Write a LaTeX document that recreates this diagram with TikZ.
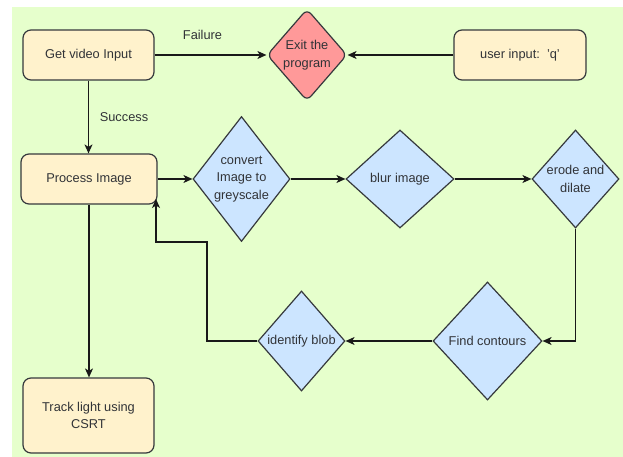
\documentclass[tikz,border=0pt]{standalone}
\usepackage{fontspec}
\setmainfont{Liberation Sans}
\usetikzlibrary{shapes.geometric,arrows.meta,calc}
\definecolor{bggreen}{HTML}{E6FFCC}
\definecolor{boxfill}{HTML}{FFF2CC}
\definecolor{diafill}{HTML}{CCE5FF}
\definecolor{exitfill}{HTML}{FF9999}
\definecolor{edge}{HTML}{36393D}
\tikzset{
  basefont/.style={font=\fontsize{12.8}{17.5}\selectfont, text=edge!90!black},
  stepbox/.style={basefont, draw=edge, fill=boxfill, line width=1.2pt, rounded corners=8pt,
    align=center, inner sep=0pt},
  decision/.style={basefont, shape=diamond, draw=edge, fill=diafill, line width=1.2pt,
    align=center, inner sep=0pt},
  arr/.style={draw=black!90, line width=1.2pt,
    -{Stealth[length=9pt, width=8pt, inset=2.5pt]}},
  tag/.style={basefont}
}
\begin{document}
\begin{tikzpicture}[x=1pt, y=-1pt]
\useasboundingbox (0,0) rectangle (623,457);
\fill[bggreen] (12,7) rectangle (623,457);

% process boxes
\node[stepbox, minimum width=131pt, minimum height=50pt] (get) at (88.5,55) {Get video Input};
\node[stepbox, minimum width=132pt, minimum height=50pt] (user) at (520,55) {user input:\ \ 'q'};
\node[stepbox, minimum width=136pt, minimum height=50pt] (proc) at (89,179) {Process Image};
\node[stepbox, minimum width=131pt, minimum height=75pt] (track) at (88.5,415.5) {Track light using\\CSRT};

% exit state
\node[decision, fill=exitfill, rounded corners=6pt, aspect=0.87,
      minimum width=80pt, minimum height=92pt] (exitp) at (307,55) {Exit the\\program};

% image pipeline
\node[decision, aspect=0.78, minimum width=97pt, minimum height=125pt] (conv) at (241.5,179) {convert\\Image to\\greyscale};
\node[decision, aspect=1.1, minimum width=108pt, minimum height=98pt] (blur) at (400,179) {blur image};
\node[decision, aspect=0.89, minimum width=87pt, minimum height=98pt] (erode) at (575.5,179) {erode and\\dilate};
\node[decision, aspect=0.92, minimum width=109pt, minimum height=118pt] (find) at (487.5,341) {Find contours};
\node[decision, aspect=0.87, minimum width=87pt, minimum height=100pt] (blob) at (301.5,341) {identify blob};

% edge labels
\node[tag] (failure) at (202.5,35) {Failure};
\node[tag] (success) at (124,117) {Success};

% connectors
\draw[arr] (get.east) -- (exitp.west);
\draw[arr] (user.west) -- (exitp.east);
\draw[arr] (get.south) -- (get.south |- proc.north);
\draw[arr] (proc.east) -- (conv.west);
\draw[arr] (conv.east) -- (blur.west);
\draw[arr] (blur.east) -- (erode.west);
\draw[arr] (erode.south) |- (find.east);
\draw[arr] (find.west) -- (blob.east);
\coordinate (loopbend) at (207,242);
\coordinate (loopend) at (156,199);
\draw[arr] (blob.west) -| (loopbend) -| (loopend);
\draw[arr] (proc.south) -- (proc.south |- track.north);
\end{tikzpicture}
\end{document}
